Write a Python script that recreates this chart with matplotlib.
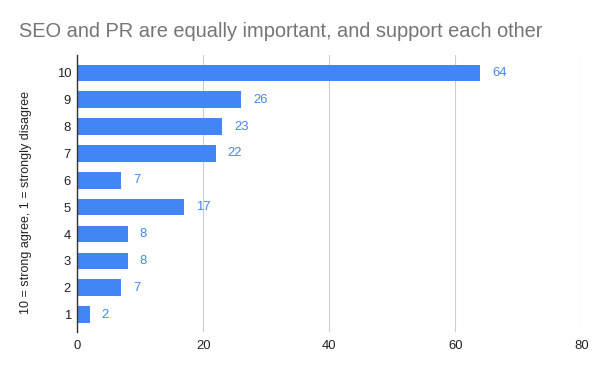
import matplotlib.pyplot as plt

plt.rcParams['font.family'] = ['Liberation Sans', 'DejaVu Sans']

# survey answers: 10 = strong agree, 1 = strongly disagree
scores = [10, 9, 8, 7, 6, 5, 4, 3, 2, 1]
counts = [64, 26, 23, 22, 7, 17, 8, 8, 7, 2]
x_ticks = [0, 20, 40, 60, 80]

blue = '#4285F4'

fig = plt.figure(figsize=(6, 3.71), dpi=100)
ax = fig.add_axes([0.1288, 0.105, 0.9688 - 0.1288, 0.852 - 0.105])

bars = ax.barh(scores, counts, height=0.62, color=blue, zorder=3)
for s, c in zip(scores, counts):
    ax.annotate(str(c), (c, s), xytext=(8.5, 0), textcoords='offset points',
                va='center', ha='left', color=blue, fontsize=9.4)

ax.set_xlim(0, 80)
ax.set_ylim(0.35, 10.67)
ax.set_xticks(x_ticks)
ax.set_yticks(scores)
ax.set_yticklabels([str(s) for s in scores])
ax.tick_params(axis='both', length=0, labelsize=9.4, labelcolor='#222222')
ax.tick_params(axis='y', pad=4.5)
ax.tick_params(axis='x', pad=6)
ax.grid(axis='x', color='#cccccc', linewidth=0.8, zorder=0)

for side in ['top', 'right', 'bottom']:
    ax.spines[side].set_visible(False)
ax.spines['left'].set_color('#333333')
ax.spines['left'].set_linewidth(1)
ax.spines['left'].set_zorder(4)

fig.text(0.044, 1 - 202 / 371, '10 = strong agree, 1 = strongly disagree', rotation=90,
         va='center', ha='center', fontsize=9, color='#222222')
fig.text(19 / 600, 1 - 37 / 371, 'SEO and PR are equally important, and support each other',
         ha='left', va='baseline', fontsize=14.4, color='#757575')

fig.savefig('out.png', dpi=100)
